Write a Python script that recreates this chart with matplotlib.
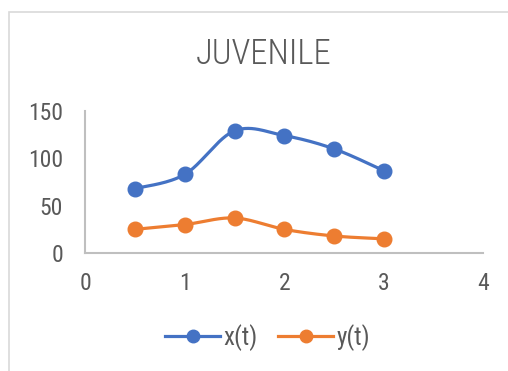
import numpy as np
import matplotlib.pyplot as plt
from matplotlib.patches import Rectangle
from matplotlib import font_manager

# Data
t = [0.5, 1.0, 1.5, 2.0, 2.5, 3.0]
x_vals = [68, 83, 129, 124, 110, 87]
y_vals = [25, 30, 37, 25, 18, 15]
x_ticks = [0, 1, 2, 3, 4]
y_ticks = [0, 50, 100, 150]

names = {f.name for f in font_manager.fontManager.ttflist}
font = 'Roboto Condensed' if 'Roboto Condensed' in names else 'Roboto'
plt.rcParams['font.family'] = [font, 'DejaVu Sans']

BLUE = '#4472C4'
ORANGE = '#ED7D31'
GREY = '#595959'


def smooth(xs, ys, n=30):
    """Catmull-Rom curve through the points, like Excel's smoothed line"""
    p = np.column_stack([xs, ys]).astype(float)
    p = np.vstack([p[0], p, p[-1]])
    out = []
    for i in range(1, len(p) - 2):
        p0, p1, p2, p3 = p[i - 1], p[i], p[i + 1], p[i + 2]
        s = np.linspace(0, 1, n)[:, None]
        c = 0.5 * ((2 * p1) + (-p0 + p2) * s + (2 * p0 - 5 * p1 + 4 * p2 - p3) * s ** 2
                   + (-p0 + 3 * p1 - 3 * p2 + p3) * s ** 3)
        out.append(c)
    c = np.vstack(out)
    return c[:, 0], c[:, 1]


fig = plt.figure(figsize=(5.08, 3.71), dpi=100)
fig.patches.append(Rectangle((9 / 508, -0.1), 1.2, 1 - 12 / 371 + 0.1, transform=fig.transFigure,
                             fill=False, edgecolor='#D9D9D9', linewidth=1.2))

ax = fig.add_axes([0.168, 0.318, 0.783, 0.383])
for vals, color, label in [(x_vals, BLUE, 'x(t)'), (y_vals, ORANGE, 'y(t)')]:
    sx, sy = smooth(t, vals)
    ax.plot(sx, sy, color=color, linewidth=2.3, solid_capstyle='round')
    ax.plot(t, vals, 'o', color=color, markersize=10.5)
    ax.plot([], [], '-o', color=color, linewidth=2.3, markersize=9, label=label)

ax.set_xlim(0, 4)
ax.set_ylim(0, 150)
ax.set_xticks(x_ticks)
ax.set_yticks(y_ticks)
ax.tick_params(length=0, labelsize=17, labelcolor=GREY)
ax.tick_params(axis='x', pad=14)
ax.tick_params(axis='y', pad=16)
for side in ['top', 'right']:
    ax.spines[side].set_visible(False)
for side in ['left', 'bottom']:
    ax.spines[side].set_color('#BFBFBF')
    ax.spines[side].set_linewidth(1.5)

fig.text(0.518, 0.855, 'JUVENILE', ha='center', va='center', fontsize=25, color=GREY,
         fontweight='light')
fig.legend(loc='center', bbox_to_anchor=(0.527, 0.09), ncol=2, frameon=False, fontsize=18,
           labelcolor=GREY, handlelength=2.2, handletextpad=0.15, columnspacing=0.8)

fig.savefig('out.png', dpi=100)
